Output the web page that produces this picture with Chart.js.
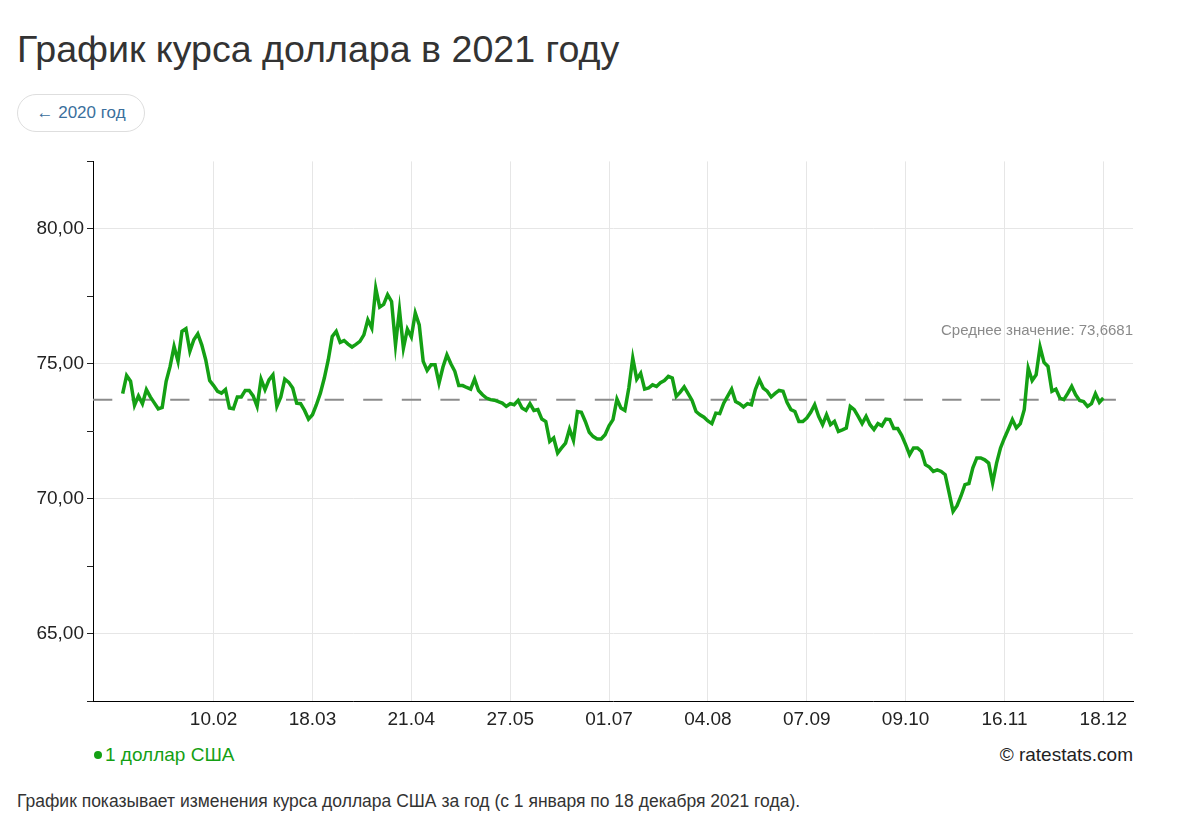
<!DOCTYPE html>
<html lang="ru">
<head>
<meta charset="utf-8">
<title>График курса доллара в 2021 году</title>
<script src="https://cdn.jsdelivr.net/npm/chart.js@4.4.1/dist/chart.umd.min.js"></script>
<style>
    body {
        margin: 0;
        width: 1193px;
        height: 820px;
        position: relative;
        overflow: hidden;
        background: #fff;
        font-family: "Liberation Sans", Arial, sans-serif;
    }
    h1 {
        position: absolute;
        left: 17px;
        top: 31px;
        margin: 0;
        font-size: 37.6px;
        line-height: 37px;
        font-weight: normal;
        color: #333;
    }
    .prev {
        position: absolute;
        left: 17px;
        top: 94px;
        width: 126px;
        height: 36px;
        border: 1px solid #dedede;
        border-radius: 19px;
        font-size: 17px;
        line-height: 36px;
        text-align: center;
        color: #3b6f9c;
    }
    #wrap {
        position: absolute;
        left: 0;
        top: 147px;
        width: 1193px;
        height: 594px;
    }
    .legend {
        position: absolute;
        left: 93px;
        top: 744px;
        font-size: 19px;
        line-height: 22px;
        color: #14a014;
    }
    .legend .dot {
        display: inline-block;
        width: 8px;
        height: 8px;
        border-radius: 50%;
        background: #14a014;
        margin: 0 3px 2px 1px;
    }
    .copy {
        position: absolute;
        right: 60px;
        top: 744px;
        font-size: 19px;
        line-height: 22px;
        color: #222;
    }
    .note {
        position: absolute;
        left: 17px;
        top: 791px;
        font-size: 17.5px;
        line-height: 20px;
        color: #333;
    }
</style>
</head>
<body>
<h1>График курса доллара в 2021 году</h1>
<div class="prev">← 2020 год</div>
<div id="wrap"><canvas id="rateChart"></canvas></div>
<div class="legend"><span class="dot"></span>1 доллар США</div>
<div class="copy">© ratestats.com</div>
<div class="note">График показывает изменения курса доллара США за год (с 1 января по 18 декабря 2021 года).</div>
<script>
// курс USD по дням торгов, 01.01 - 18.12.2021
const rates = [
    73.89, 74.56, 74.35, 73.46, 73.81, 73.52, 74.04, 73.77, 73.55, 73.33,
    73.38, 74.35, 74.90, 75.64, 75.09, 76.20, 76.30, 75.46, 75.89, 76.11,
    75.70, 75.15, 74.38, 74.19, 73.98, 73.91, 74.04, 73.36, 73.33, 73.77,
    73.77, 74.01, 74.01, 73.81, 73.42, 74.43, 74.04, 74.40, 74.59, 73.42,
    73.77, 74.43, 74.31, 74.10, 73.54, 73.52, 73.27, 72.95, 73.11, 73.48,
    73.91, 74.47, 75.15, 76.01, 76.20, 75.79, 75.86, 75.73, 75.62, 75.72,
    75.83, 76.07, 76.63, 76.32, 77.80, 77.10, 77.20, 77.56, 77.31, 75.70,
    77.00, 75.58, 76.28, 75.99, 76.88, 76.44, 75.09, 74.75, 74.96, 74.96,
    74.28, 74.88, 75.33, 75.00, 74.72, 74.19, 74.19, 74.12, 74.06, 74.43,
    74.01, 73.85, 73.73, 73.67, 73.65, 73.60, 73.54, 73.42, 73.52, 73.48,
    73.64, 73.36, 73.27, 73.52, 73.27, 73.30, 72.95, 72.86, 72.12, 72.25,
    71.69, 71.88, 72.06, 72.58, 72.16, 73.23, 73.20, 72.86, 72.46, 72.30,
    72.21, 72.21, 72.37, 72.70, 72.93, 73.69, 73.36, 73.27, 74.10, 75.21,
    74.43, 74.65, 74.06, 74.10, 74.22, 74.16, 74.30, 74.38, 74.53, 74.47,
    73.79, 73.95, 74.14, 73.89, 73.64, 73.23, 73.11, 73.02, 72.88, 72.78,
    73.17, 73.15, 73.54, 73.80, 74.06, 73.60, 73.52, 73.40, 73.52, 73.48,
    74.04, 74.41, 74.10, 73.98, 73.77, 73.90, 74.01, 73.98, 73.57, 73.30,
    73.23, 72.86, 72.86, 72.99, 73.20, 73.48, 73.05, 72.74, 73.11, 72.74,
    72.86, 72.49, 72.55, 72.62, 73.42, 73.30, 73.05, 72.78, 73.05, 72.74,
    72.56, 72.78, 72.70, 72.95, 72.93, 72.60, 72.60, 72.35, 72.00, 71.63,
    71.88, 71.88, 71.75, 71.26, 71.17, 71.01, 71.07, 71.01, 70.89, 70.21,
    69.53, 69.74, 70.10, 70.52, 70.56, 71.14, 71.51, 71.51, 71.44, 71.32,
    70.58, 71.32, 71.88, 72.25, 72.58, 72.93, 72.62, 72.78, 73.30, 74.84,
    74.38, 74.59, 75.62, 75.05, 74.90, 73.98, 74.06, 73.73, 73.67, 73.90,
    74.16, 73.85, 73.64, 73.60, 73.42, 73.52, 73.89, 73.57, 73.73
];
const dateTicks = [23, 48, 73, 98, 123, 148, 173, 198, 223, 248];
const dateLabels = ['10.02', '18.03', '21.04', '27.05', '01.07', '04.08', '07.09', '09.10', '16.11', '18.12'];
const average = 73.6681;

const green = '#14a014';
Chart.defaults.font.family = '"Liberation Sans", Arial, sans-serif';
Chart.defaults.color = '#222';

const xMin = -7.5;
const xMax = rates.length - 1 + 7.5;

// подпись среднего значения над пунктиром
const avgLabel = {
    id: 'avgLabel',
    afterDatasetsDraw(chart) {
        const { ctx, chartArea, scales } = chart;
        const y = scales.y.getPixelForValue(average) - 69;
        ctx.save();
        ctx.font = '15px "Liberation Sans", Arial, sans-serif';
        ctx.fillStyle = '#8a8a8a';
        ctx.textAlign = 'right';
        ctx.textBaseline = 'middle';
        ctx.fillText('Среднее значение: ' + String(average).replace('.', ','), chartArea.right, y);
        ctx.restore();
    }
};

const ctx = document.getElementById('rateChart').getContext('2d');
new Chart(ctx, {
    type: 'line',
    data: {
        datasets: [{
            label: '1 доллар США',
            data: rates.map((v, i) => ({ x: i, y: v })),
            borderColor: green,
            borderWidth: 3.5,
            pointRadius: 0,
            tension: 0,
            order: 1
        }, {
            label: 'Среднее',
            data: [{ x: xMin, y: average }, { x: xMax, y: average }],
            borderColor: '#8c8c8c',
            borderWidth: 2,
            borderDash: [19.3, 19.3],
            pointRadius: 0,
            order: 2
        }]
    },
    options: {
        responsive: true,
        maintainAspectRatio: false,
        animation: false,
        devicePixelRatio: 1,
        layout: { padding: { top: 11, right: 60, left: 0, bottom: 0 } },
        plugins: {
            legend: { display: false },
            tooltip: { enabled: false }
        },
        scales: {
            x: {
                type: 'linear',
                min: xMin,
                max: xMax,
                afterBuildTicks: (scale) => {
                    scale.ticks = dateTicks.map(v => ({ value: v }));
                },
                afterFit: (scale) => { scale.height = 40; },
                ticks: {
                    autoSkip: false,
                    maxRotation: 0,
                    padding: 7,
                    font: { size: 19 },
                    color: '#222',
                    callback: (value) => dateLabels[dateTicks.indexOf(value)]
                },
                grid: {
                    color: '#e6e6e6',
                    drawTicks: false
                },
                border: { color: '#000', width: 1 }
            },
            y: {
                min: 62.5,
                max: 82.5,
                afterFit: (scale) => { scale.width = 93; },
                ticks: {
                    stepSize: 2.5,
                    padding: 3,
                    font: { size: 19 },
                    color: '#222',
                    callback: (value) => value % 5 === 0 ? value.toFixed(2).replace('.', ',') : ''
                },
                grid: {
                    color: (c) => (c.tick && c.tick.value % 5 === 0) ? '#e6e6e6' : 'rgba(0,0,0,0)',
                    tickColor: '#222',
                    tickLength: 6
                },
                border: { color: '#000', width: 1 }
            }
        }
    },
    plugins: [avgLabel]
});
</script>
</body>
</html>
